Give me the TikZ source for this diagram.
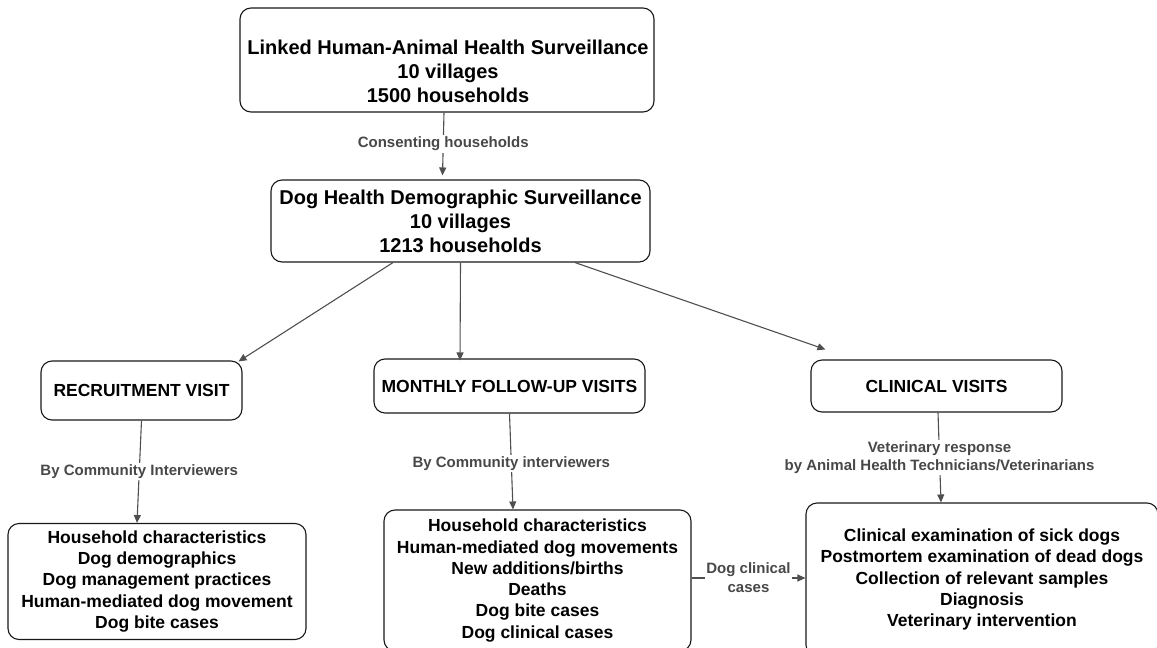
\documentclass[tikz,border=0pt]{standalone}
\usepackage{fontspec}
\setmainfont{Liberation Sans}
\usetikzlibrary{arrows.meta,calc}
\definecolor{linec}{HTML}{4F4F4F}
\definecolor{labc}{HTML}{484848}
\begin{document}
\begin{tikzpicture}[x=1pt,y=-1pt,
  box/.style={draw=black!90, line width=1.1pt, rounded corners=11pt, align=center, inner sep=0pt},
  bigtext/.style={font=\fontsize{20}{24}\selectfont\bfseries, align=center, inner sep=0pt},
  headtext/.style={font=\fontsize{17.5}{21}\selectfont\bfseries},
  listtext/.style={font=\fontsize{17.5}{21.3}\selectfont\bfseries},
  lab/.style={font=\fontsize{15}{18.5}\selectfont\bfseries, text=labc, fill=white, inner sep=1.5pt, align=center},
  conn/.style={draw=linec, line width=1.1pt, -{Triangle[length=8pt,width=7pt]}}
]
\useasboundingbox (0,0) rectangle (1157,648);
\clip (0,0) rectangle (1157,648);

\node[box, minimum width=414pt, minimum height=104pt] (top) at (447,60) {};
\node[bigtext] (toptext) at (448,71)
  {Linked Human-Animal Health Surveillance\\10 villages\\1500 households};
\node[box, bigtext, minimum width=379pt, minimum height=82pt] (dhds) at (460.5,221)
  {Dog Health Demographic Surveillance\\10 villages\\1213 households};

\node[box, headtext, minimum width=201pt, minimum height=59pt] (rec) at (141.5,390.5) {RECRUITMENT VISIT};
\node[box, headtext, minimum width=271pt, minimum height=54pt] (mon) at (509.5,386) {MONTHLY FOLLOW-UP VISITS};
\node[box, headtext, minimum width=251pt, minimum height=52pt] (cli) at (936.5,386) {CLINICAL VISITS};

\node[box, listtext, minimum width=298pt, minimum height=116pt] (rbox) at (157,581.5)
  {Household characteristics\\Dog demographics\\Dog management practices\\Human-mediated dog movement\\Dog bite cases};
\node[box, listtext, minimum width=307pt, minimum height=141pt] (mbox) at (537.5,580.5)
  {Household characteristics\\Human-mediated dog movements\\New additions/births\\Deaths\\Dog bite cases\\Dog clinical cases};
\node[box, listtext, minimum width=352pt, minimum height=153pt] (cbox) at (982,579.5)
  {Clinical examination of sick dogs\\Postmortem examination of dead dogs\\Collection of relevant samples\\Diagnosis\\Veterinary intervention};

\draw[conn] ($(top.south)+(-3,0)$) -- node[lab] {Consenting households} ($(dhds.north)+(-18,-4)$);

\draw[conn] ($(dhds.south)+(-67.5,0)$) -- ($(rec.north east)+(-4,1)$);
\draw[conn] ($(dhds.south)+(0,0)$) -- ($(mon.north)+(-49.5,2)$);
\draw[conn] ($(dhds.south)+(114.5,0)$) -- ($(cli.north west)+(15,-10)$);

\draw[conn] (rec.south) -- node[lab, pos=0.5] {By Community Interviewers} ($(rbox.north)+(-20,0)$);
\draw[conn] (mon.south) -- node[lab, pos=0.52] {By Community interviewers} ($(mbox.north)+(-24.5,0)$);
\draw[conn] ($(cli.south)+(1.5,0)$) -- node[lab, pos=0.5, font=\fontsize{15}{18}\selectfont\bfseries] {Veterinary response\\by Animal Health Technicians/Veterinarians} ($(cbox.north)+(-41,0)$);

\draw[conn] ($(mbox.east)+(0,-2.5)$) -- node[lab, pos=0.5, font=\fontsize{15}{19}\selectfont\bfseries] {Dog clinical\\cases} ($(cbox.west)+(0,-1.5)$);
\end{tikzpicture}
\end{document}
